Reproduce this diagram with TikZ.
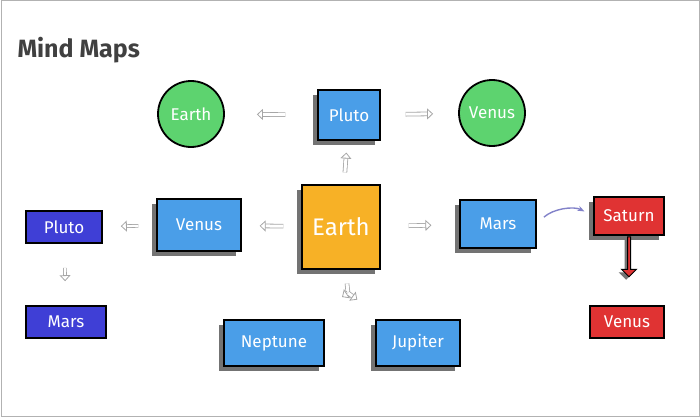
\documentclass[tikz,border=0pt]{standalone}
\usepackage{fontspec}
\setsansfont{Fira Sans}
\usetikzlibrary{shapes.geometric, shapes.arrows, arrows.meta, shadows, calc}
\definecolor{skyblue}{HTML}{4A9EE8}
\definecolor{deepblue}{HTML}{3F3FD6}
\definecolor{leafgreen}{HTML}{5DD36F}
\definecolor{amber}{HTML}{F7B126}
\definecolor{brickred}{HTML}{E03333}
\tikzstyle{cube} = [rectangle, draw=black, line width=1.2pt, text=white, font=\sffamily\fontsize{17}{20}\selectfont,
  drop shadow={shadow xshift=-5pt, shadow yshift=-5pt, fill=black!55, opacity=1}]
\tikzstyle{flat} = [rectangle, draw=black, line width=1.6pt, text=white, font=\sffamily\fontsize{17}{20}\selectfont]
\tikzstyle{planet} = [circle, draw=black, line width=1.8pt, fill=leafgreen, text=white, minimum size=66pt, font=\sffamily\fontsize{17}{20}\selectfont]
\tikzstyle{hollow} = [draw=gray!70, double=white, double distance=3pt, line width=0.8pt, -{Triangle[open, length=6pt, width=11pt]}]

\begin{document}
\begin{tikzpicture}[x=1pt, y=-1pt]
\useasboundingbox (0,0) rectangle (700,417);
\draw[gray!60, line width=1pt] (1,1) rectangle (699,416);
\node (title) [anchor=west, text=black!75, font=\sffamily\bfseries\fontsize{25}{28}\selectfont] at (14,50) {Mind Maps};

\node (earth) [cube, fill=amber, minimum width=78pt, minimum height=84pt, font=\sffamily\fontsize{24}{28}\selectfont] at (341,227) {Earth};
\node (pluto) [cube, fill=skyblue, minimum width=62pt, minimum height=50pt] at (349,115) {Pluto};
\node (circearth) [planet] at (191,114) {Earth};
\node (circvenus) [planet] at (492,113) {Venus};
\node (venus) [cube, fill=skyblue, minimum width=84pt, minimum height=52pt] at (199,225) {Venus};
\node (mars) [cube, fill=skyblue, minimum width=76pt, minimum height=48pt] at (498,224) {Mars};
\node (neptune) [cube, fill=skyblue, minimum width=100pt, minimum height=46pt] at (274,343) {Neptune};
\node (jupiter) [cube, fill=skyblue, minimum width=84pt, minimum height=46pt] at (418,343) {Jupiter};
\node (saturn) [cube, fill=brickred, minimum width=70pt, minimum height=38pt] at (629,216) {Saturn};
\node (redvenus) [flat, fill=brickred, minimum width=74pt, minimum height=32pt] at (627,322) {Venus};
\node (sidepluto) [flat, fill=deepblue, minimum width=76pt, minimum height=32pt] at (64,227) {Pluto};
\node (sidemars) [flat, fill=deepblue, minimum width=80pt, minimum height=32pt] at (66,322) {Mars};
\node (satarrow) [single arrow, rotate=-90, draw=black, line width=1pt, fill=brickred, minimum height=40pt,
  single arrow head extend=6pt, minimum width=14pt, inner sep=1pt,
  drop shadow={shadow xshift=-3pt, shadow yshift=-3pt, fill=black!55, opacity=1}] at (629,256) {};
\coordinate (split) at (348,293);

\draw [hollow, shorten <=32pt, shorten >=32pt] (pluto) -- (circearth);
\draw [hollow, shorten <=25pt, shorten >=25pt] (pluto) -- (circvenus);
\draw [hollow, shorten <=12pt, shorten >=12pt] (earth) -- (pluto);
\draw [hollow, shorten <=18pt, shorten >=18pt] (earth) -- (venus);
\draw [hollow, shorten <=28pt, shorten >=28pt] (earth) -- (mars);
\draw [draw=gray!70, double=white, double distance=3pt, line width=0.8pt, shorten <=14pt] (earth) -- (split);
\draw [hollow, shorten >=40pt] (split) -- (neptune);
\draw [hollow, shorten >=34pt] (split) -- (jupiter);
\draw [hollow, double distance=2pt, shorten <=18pt, shorten >=18pt] (venus) -- (sidepluto);
\draw [hollow, double distance=2pt, shorten <=24pt, shorten >=24pt] (sidepluto) -- (sidemars);
\draw [-{Stealth[length=7pt]}, color=gray!60!blue!70, line width=1.4pt, shorten <=10pt, shorten >=10pt]
  (mars.east) to[bend left=35] (saturn.west);
\end{tikzpicture}
\end{document}
